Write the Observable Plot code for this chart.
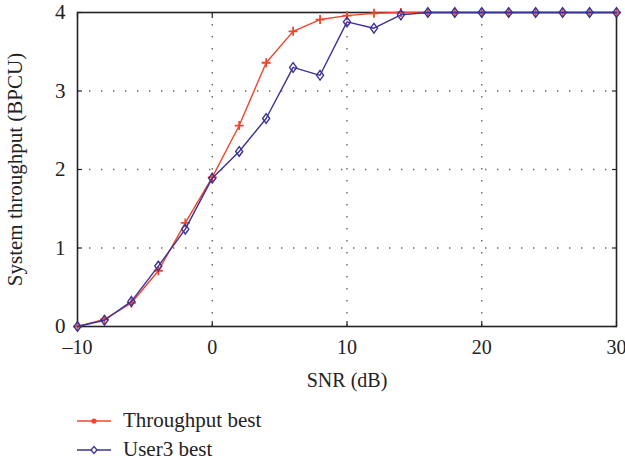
<!DOCTYPE html>
<html>
<head>
<meta charset="utf-8">
<script src="https://cdn.jsdelivr.net/npm/d3@7"></script>
<script src="https://cdn.jsdelivr.net/npm/@observablehq/plot@0.6"></script>
<style>
  body { margin: 0; background: #fff; font-family: "Liberation Serif", serif; }
  #legend { position: relative; height: 65px; color: #222; font-size: 21px; }
  .row { position: absolute; left: 77px; display: flex; align-items: center; }
  .row span { margin-left: 12px; }
</style>
</head>
<body>
<div id="chart"></div>
<div id="legend"></div>
<script>
const snr = [-10, -8, -6, -4, -2, 0, 2, 4, 6, 8, 10, 12, 14, 16, 18, 20, 22, 24, 26, 28, 30];
const throughputBest = [0.0, 0.09, 0.30, 0.71, 1.32, 1.90, 2.56, 3.36, 3.76, 3.91, 3.96, 3.99, 4.0, 4.0, 4.0, 4.0, 4.0, 4.0, 4.0, 4.0, 4.0];
const user3Best = [0.0, 0.08, 0.32, 0.77, 1.24, 1.89, 2.23, 2.65, 3.30, 3.20, 3.88, 3.80, 3.97, 4.0, 4.0, 4.0, 4.0, 4.0, 4.0, 4.0, 4.0];
const seriesNames = ["Throughput best", "User3 best"];
const seriesColors = ["#f0462d", "#3b3296"];
const xTicks = [-10, 0, 10, 20, 30];
const yTicks = [0, 1, 2, 3, 4];

const rows = [];
snr.forEach((x, i) => {
  rows.push({x, y: throughputBest[i], s: seriesNames[0]});
});
snr.forEach((x, i) => {
  rows.push({x, y: user3Best[i], s: seriesNames[1]});
});
const red = rows.filter(d => d.s === seriesNames[0]);
const blue = rows.filter(d => d.s === seriesNames[1]);

const tallDiamond = {
  draw(ctx, size) {
    const r = Math.sqrt(size) / 2;
    ctx.moveTo(0, -r * 1.3);
    ctx.lineTo(r * 0.95, 0);
    ctx.lineTo(0, r * 1.3);
    ctx.lineTo(-r * 0.95, 0);
    ctx.closePath();
  }
};

const chart = Plot.plot({
  width: 625,
  height: 395,
  marginLeft: 77,
  marginRight: 9,
  marginTop: 12,
  marginBottom: 69,
  style: {fontFamily: "Liberation Serif, serif", fontSize: "20px", color: "#222", background: "#fff"},
  x: {domain: [-10, 30]},
  y: {domain: [0, 4]},
  marks: [
    Plot.gridX(xTicks.slice(1, -1), {stroke: "#666", strokeOpacity: 1, strokeWidth: 1.4, strokeDasharray: "1.4,10.6"}),
    Plot.gridY(yTicks.slice(1, -1), {stroke: "#666", strokeOpacity: 1, strokeWidth: 1.4, strokeDasharray: "1.4,10.6"}),
    Plot.axisX(xTicks, {anchor: "bottom", tickSize: -5, fill: "none", stroke: "#222", strokeWidth: 1.2}),
    Plot.axisX(xTicks, {anchor: "top", tickSize: -5, fill: "none", stroke: "#222", strokeWidth: 1.2}),
    Plot.axisY(yTicks, {anchor: "left", tickSize: -5, fill: "none", stroke: "#222", strokeWidth: 1.2}),
    Plot.axisY(yTicks, {anchor: "right", tickSize: -5, fill: "none", stroke: "#222", strokeWidth: 1.2}),
    Plot.axisX(xTicks, {anchor: "bottom", tickSize: 0, tickPadding: 13, tickFormat: d => d < 0 ? "\u2013" + Math.abs(d) : String(d), label: "SNR (dB)", labelAnchor: "center", labelArrow: "none", labelOffset: 60, fontSize: 20, fill: "#222"}),
    Plot.axisY(yTicks, {anchor: "left", tickSize: 0, tickPadding: 12, tickFormat: d => String(d), label: "System throughput (BPCU)", labelAnchor: "center", labelArrow: "none", labelOffset: 70, fontSize: 21, fill: "#222"}),
    Plot.frame({stroke: "#222", strokeWidth: 1.6}),
    Plot.line(red, {x: "x", y: "y", stroke: seriesColors[0], strokeWidth: 1.4}),
    Plot.dot(red, {x: "x", y: "y", symbol: "plus", r: 3, stroke: seriesColors[0], strokeWidth: 1.8}),
    Plot.line(blue, {x: "x", y: "y", stroke: seriesColors[1], strokeWidth: 1.4}),
    Plot.dot(blue, {x: "x", y: "y", symbol: tallDiamond, r: 4.2, stroke: seriesColors[1], fill: "none", strokeWidth: 1.4})
  ]
});
document.getElementById("chart").appendChild(chart);

const legend = document.getElementById("legend");
seriesNames.forEach((name, i) => {
  const row = document.createElement("div");
  row.className = "row";
  row.style.top = (i === 0 ? 13 : 42) + "px";
  const marker = i === 0
    ? `<circle cx="17" cy="8" r="2.6" fill="${seriesColors[0]}"/>`
    : `<path d="M17,4.5 L20,8 L17,11.5 L14,8 Z" fill="#fff" stroke="${seriesColors[1]}" stroke-width="1.3"/>`;
  row.innerHTML = `<svg width="34" height="16"><line x1="0" y1="8" x2="34" y2="8" stroke="${seriesColors[i]}" stroke-width="1.4"/>${marker}</svg><span>${name}</span>`;
  legend.appendChild(row);
});
</script>
</body>
</html>
